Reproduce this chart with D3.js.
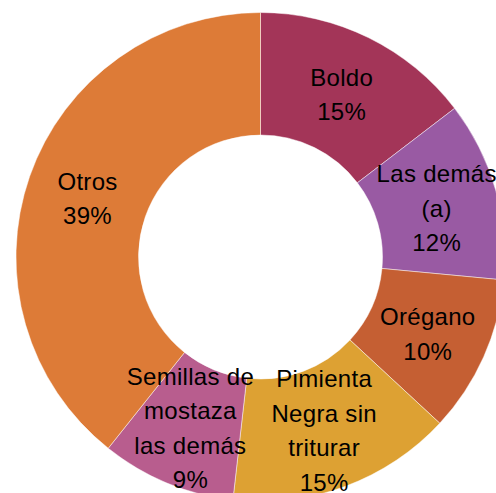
<!DOCTYPE html>
<html>
<head>
<meta charset="utf-8">
<script src="https://cdn.jsdelivr.net/npm/d3@7"></script>
<style>
  html, body { margin: 0; padding: 0; background: #fff; overflow: hidden; }
  svg { display: block; }
</style>
</head>
<body>
<div id="vis"></div>
<script>
// slices in clockwise order from 12 o'clock
const categories = ["Boldo", "Las demás (a)", "Orégano", "Pimienta Negra sin triturar", "Semillas de mostaza las demás", "Otros"];
const shares = [14.6, 11.9, 10.4, 14.9, 8.9, 39.3];
const percentLabels = ["15%", "12%", "10%", "15%", "9%", "39%"];
// how each label is broken into lines
const labelLines = [
  ["Boldo"],
  ["Las demás", "(a)"],
  ["Orégano"],
  ["Pimienta", "Negra sin", "triturar"],
  ["Semillas de", "mostaza", "las demás"],
  ["Otros"]
];
const colours = ["#a33558", "#995aa3", "#c55f33", "#dda133", "#b85d8e", "#dd7b37"];

const width = 496;
const height = 493;
const centre = { x: 260.5, y: 257 };
const outerR = 244.5;
const innerR = 122;

const svg = d3.select("#vis")
  .append("svg")
  .attr("width", width)
  .attr("height", height);

const data = categories.map((c, i) => ({
  name: c,
  value: shares[i],
  lines: labelLines[i].concat([percentLabels[i]]),
  colour: colours[i]
}));

const pie = d3.pie()
  .value((d) => d.value)
  .sort(null);

const arc = d3.arc()
  .innerRadius(innerR)
  .outerRadius(outerR);

const arcs = pie(data);

const g = svg.append("g")
  .attr("transform", `translate(${centre.x},${centre.y})`);

// all slices first, so no label gets covered by a later slice
g.append("g")
  .selectAll("path")
  .data(arcs)
  .enter()
  .append("path")
  .attr("d", arc)
  .attr("fill", (d) => d.data.colour)
  .attr("stroke", "#ffffff")
  .attr("stroke-opacity", 0.6)
  .attr("stroke-width", 0.8);

// labels sit on the arc centroid, lines stacked around it
const lineGap = 34.5;
g.append("g")
  .selectAll("text")
  .data(arcs)
  .enter()
  .append("text")
  .attr("transform", (d) => {
    const c = arc.centroid(d);
    return `translate(${c[0]},${c[1] + 2})`;
  })
  .attr("text-anchor", "middle")
  .style("font-family", "'Liberation Sans', Arial, sans-serif")
  .style("font-size", "24px")
  .style("letter-spacing", "0.3px")
  .style("fill", "#000")
  .each(function (d) {
    const lines = d.data.lines;
    const t = d3.select(this);
    lines.forEach((ln, i) => {
      t.append("tspan")
        .attr("x", 0)
        .attr("y", (i - (lines.length - 1) / 2) * lineGap)
        .attr("dy", "0.35em")
        .text(ln);
    });
  });
</script>
</body>
</html>
